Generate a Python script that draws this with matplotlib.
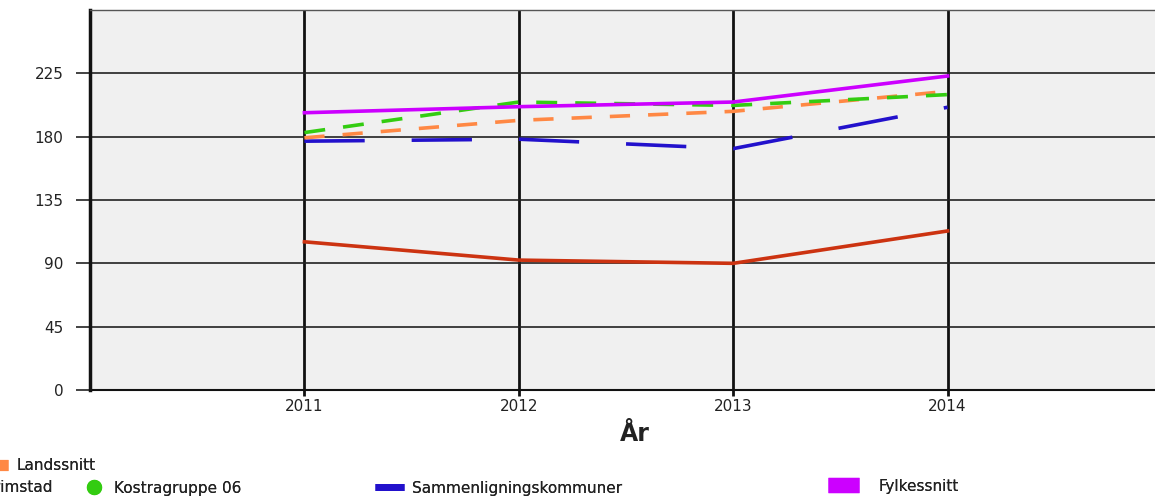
import matplotlib.pyplot as plt
from matplotlib.lines import Line2D

years = [2011, 2012, 2013, 2014]
kommune = [105.3, 92.3, 90.0, 113.0]
landssnitt = [179.2, 191.6, 198.0, 212.2]
kostragruppe = [182.9, 204.6, 202.2, 209.9]
sammenligning = [176.8, 178.2, 171.5, 200.9]
fylkessnitt = [197.0, 201.3, 204.6, 223.1]
y_ticks = [0, 45, 90, 135, 180, 225]

W, H = 1155, 497
fig = plt.figure(figsize=(W / 100, H / 100), dpi=100)
# axes run past the right edge, like the cropped original
ax = fig.add_axes([90 / W, 107 / H, 1072 / W, 380 / H])
ax.set_facecolor('#f0f0f0')

lw = 2.6
ax.plot(years, kommune, color='#cc3311', lw=lw, zorder=3)
ax.plot(years, sammenligning, color='#2211cc', lw=lw, dashes=(16.7, 13), zorder=3)
ax.plot(years, landssnitt, color='#ff8844', lw=lw, dashes=(5.6, 5), zorder=3)
ax.plot(years, kostragruppe, color='#33cc11', lw=lw, dashes=(5.8, 5), zorder=3)
ax.plot(years, fylkessnitt, color='#cc00ff', lw=lw, zorder=4)

ax.set_xlim(2010, 2015)
ax.set_ylim(0, 270)
ax.set_xticks(years)
ax.set_yticks(y_ticks)
ax.set_axisbelow(True)
ax.yaxis.grid(True, color='#222222', lw=1.2)
ax.xaxis.grid(True, color='#111111', lw=2)

ax.tick_params(axis='y', length=10, width=1.2, color='#222222', pad=9,
               labelsize=11, labelcolor='#222222')
ax.tick_params(axis='x', length=4.5, width=2, color='#111111', pad=2,
               labelsize=11, labelcolor='#222222')
ax.spines['left'].set_linewidth(2.5)
ax.spines['left'].set_color('#111111')
ax.spines['bottom'].set_linewidth(1.5)
ax.spines['bottom'].set_color('#111111')
ax.spines['top'].set_linewidth(1)
ax.spines['top'].set_color('#555555')
ax.spines['right'].set_visible(False)

ax.set_xlabel('År', fontsize=17, fontweight='bold', color='#222222', labelpad=7)
ax.xaxis.set_label_coords(0.508, -0.085)


def legend_item(handle, label, x, y, loc='center left', hl=2.0, pad=0.6):
    leg = fig.legend(handles=[handle], labels=[label], loc=loc,
                     bbox_to_anchor=(x / W, 1 - y / H), frameon=False,
                     borderpad=0, borderaxespad=0, handlelength=hl,
                     handletextpad=pad, fontsize=11, labelcolor='#222222')
    fig.add_artist(leg)


legend_item(Line2D([], [], color='#ff8844', lw=8, solid_capstyle='butt'),
            'Landssnitt', 96, 466, loc='center right')
legend_item(Line2D([], [], color='#cc3311', lw=8, solid_capstyle='butt'),
            'Grimstad', 53, 488, loc='center right')
legend_item(Line2D([], [], color='#33cc11', ls='', marker='o', markersize=10),
            'Kostragruppe 06', 86, 488, hl=1.0, pad=0.8)
legend_item(Line2D([], [], color='#2211cc', lw=5, solid_capstyle='butt'),
            'Sammenligningskommuner', 375, 488, hl=1.9, pad=0.5)
legend_item(Line2D([], [], color='#cc00ff', lw=11, solid_capstyle='butt'),
            'Fylkessnitt', 828, 486, hl=2.0, pad=1.3)

fig.savefig('out.png', dpi=100)
